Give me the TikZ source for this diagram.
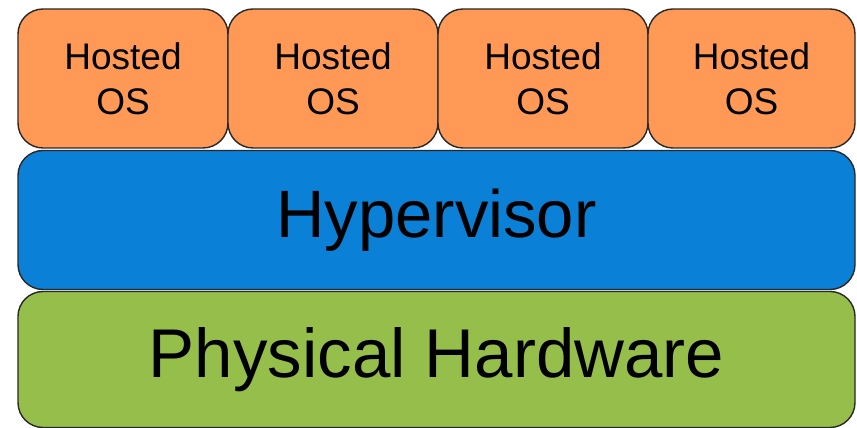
\documentclass[tikz,border=0pt]{standalone}
\usepackage{fontspec}
\setmainfont{Liberation Sans}
\definecolor{osfill}{RGB}{255,153,85}
\definecolor{hvfill}{RGB}{10,128,214}
\definecolor{hwfill}{RGB}{150,190,75}
\definecolor{edge}{RGB}{40,40,40}
\begin{document}
\begin{tikzpicture}[x=1pt,y=1pt,
  layer/.style={draw=edge, line width=1.4pt, rounded corners=25pt, inner sep=0pt,
    align=center, text=black},
  osbox/.style={layer, fill=osfill, minimum height=139pt,
    font=\fontsize{37}{45}\selectfont},
  bigbox/.style={layer, minimum width=837pt, minimum height=139pt,
    font=\fontsize{67}{80}\selectfont}]
  \useasboundingbox (0,0) rectangle (857,428);
  % bottom layer: hardware
  \node[bigbox, fill=hwfill, minimum height=136pt,
    font=\fontsize{69}{80}\selectfont] (hw) at (436.5,68.5) {Physical Hardware};
  % middle layer: hypervisor
  \node[bigbox, fill=hvfill] (hv) at (436.5,208) {Hypervisor};
  % top layer: guest operating systems
  \node[osbox, minimum width=210pt] (os1) at (123,349.5) {Hosted\\OS};
  \node[osbox, minimum width=210pt] (os2) at (333,349.5) {Hosted\\OS};
  \node[osbox, minimum width=210pt] (os3) at (543,349.5) {Hosted\\OS};
  \node[osbox, minimum width=207pt] (os4) at (751.5,349.5) {Hosted\\OS};
\end{tikzpicture}
\end{document}
